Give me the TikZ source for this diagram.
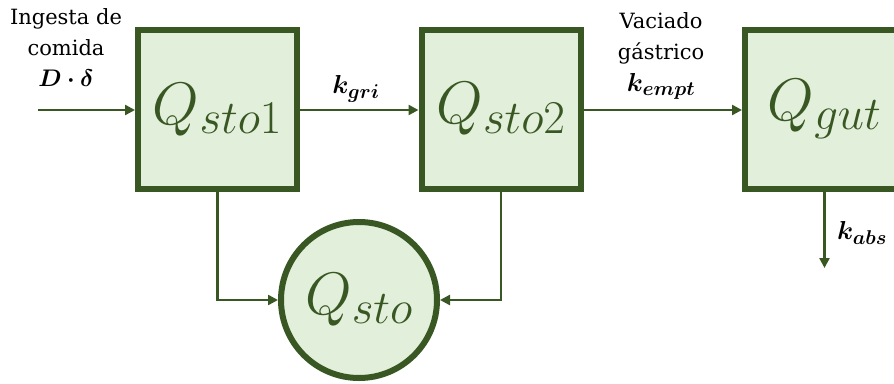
\RequirePackage{fix-cm}
\documentclass[tikz,border=0pt]{standalone}
\usepackage{amsmath}
\usepackage{bm}
\usepackage[no-math]{fontspec}
\setmainfont{DejaVu Serif}
\usetikzlibrary{arrows.meta}
\definecolor{darkgreen}{HTML}{385723}
\definecolor{lightgreen}{HTML}{E2EFDA}
% larger subscripts for the compartment symbols and rate constants
\DeclareMathSizes{60}{60}{47}{36}
\DeclareMathSizes{26}{26}{20}{15}
\begin{document}
\begin{tikzpicture}[x=1pt,y=-1pt,
  compartment/.style={draw=darkgreen, fill=lightgreen, line width=6pt,
    minimum size=159pt, inner sep=0pt, text=darkgreen,
    font=\fontsize{60}{60}\selectfont},
  pool/.style={compartment, circle, minimum size=156pt},
  flow/.style={draw=darkgreen, line width=2.4pt,
    -{Triangle[length=10pt,width=10pt]}},
  lbl/.style={align=center, inner sep=0pt, font=\fontsize{21}{31}\selectfont},
  rate/.style={inner sep=0pt, font=\fontsize{26}{26}\selectfont}]
  \useasboundingbox (0,0) rectangle (894,383);

  % compartments
  \node[compartment] (sto1) at (217.5,109.5) {$Q_{sto1}$};
  \node[compartment] (sto2) at (501,109) {$Q_{sto2}$};
  \node[compartment] (gut)  at (824.5,109.5) {$Q_{gut}$};
  \node[pool] (sto) at (359,300) {$Q_{sto}$};

  % free ends of the open flows
  \coordinate (intake) at (38,110);
  \coordinate (absorbed) at (gut.south |- 0,268);

  % flows between compartments
  \draw[flow] (intake) -- (intake -| sto1.west);
  \draw[flow] (sto1.east |- 0,110) -- (sto2.west |- 0,110);
  \draw[flow] (sto2.east |- 0,110) -- (gut.west |- 0,110);
  \draw[flow] (gut.south) -- (absorbed);
  \draw[flow] (sto1.south) |- (sto.west);
  \draw[flow] (sto2.south) |- (sto.east);

  % labels
  \node[lbl] (intakelbl) at (66,32) {Ingesta de\\comida};
  \node[rate, font=\fontsize{24}{24}\selectfont] (dose) at (66,78) {$\boldsymbol{D\cdot\delta}$};
  \node[rate] (grilbl) at (356,89) {$\boldsymbol{k_{gri}}$};
  \node[lbl] (emptlbl) at (661,38) {Vaciado\\gástrico};
  \node[rate] (emptk) at (661,86) {$\boldsymbol{k_{empt}}$};
  \node[rate] (abslbl) at (862,233) {$\boldsymbol{k_{abs}}$};
\end{tikzpicture}
\end{document}
